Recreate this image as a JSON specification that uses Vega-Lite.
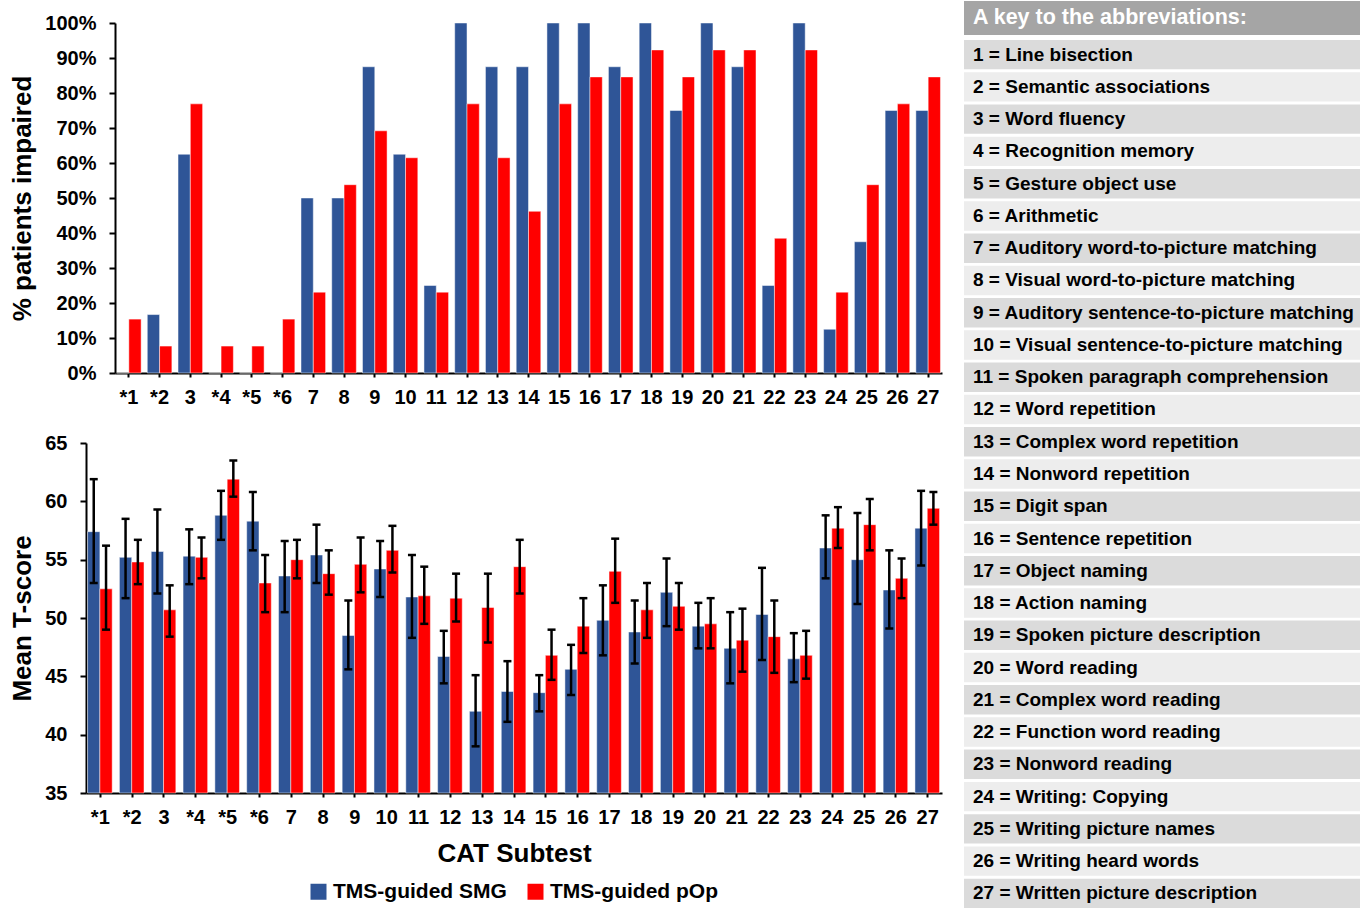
{
  "$schema": "https://vega.github.io/schema/vega-lite/v6.json",
  "background": "white",
  "padding": {"left": 9, "top": 1, "right": 0, "bottom": 0},
  "datasets": {
    "cat": [
      {"test": "*1", "group": "TMS-guided SMG", "pct": 0, "mean": 57.4, "lo": 53.0, "hi": 61.9},
      {"test": "*1", "group": "TMS-guided pOp", "pct": 0.154, "mean": 52.5, "lo": 49.0, "hi": 56.2},
      {"test": "*2", "group": "TMS-guided SMG", "pct": 0.167, "mean": 55.2, "lo": 51.7, "hi": 58.5},
      {"test": "*2", "group": "TMS-guided pOp", "pct": 0.077, "mean": 54.8, "lo": 52.9, "hi": 56.7},
      {"test": "3", "group": "TMS-guided SMG", "pct": 0.625, "mean": 55.7, "lo": 52.1, "hi": 59.3},
      {"test": "3", "group": "TMS-guided pOp", "pct": 0.769, "mean": 50.7, "lo": 48.4, "hi": 52.8},
      {"test": "*4", "group": "TMS-guided SMG", "pct": 0, "mean": 55.3, "lo": 52.9, "hi": 57.6},
      {"test": "*4", "group": "TMS-guided pOp", "pct": 0.077, "mean": 55.2, "lo": 53.4, "hi": 56.9},
      {"test": "*5", "group": "TMS-guided SMG", "pct": 0, "mean": 58.8, "lo": 56.7, "hi": 60.9},
      {"test": "*5", "group": "TMS-guided pOp", "pct": 0.077, "mean": 61.9, "lo": 60.4, "hi": 63.5},
      {"test": "*6", "group": "TMS-guided SMG", "pct": 0, "mean": 58.3, "lo": 55.8, "hi": 60.8},
      {"test": "*6", "group": "TMS-guided pOp", "pct": 0.154, "mean": 53.0, "lo": 50.5, "hi": 55.4},
      {"test": "7", "group": "TMS-guided SMG", "pct": 0.5, "mean": 53.6, "lo": 50.5, "hi": 56.6},
      {"test": "7", "group": "TMS-guided pOp", "pct": 0.231, "mean": 55.0, "lo": 53.4, "hi": 56.7},
      {"test": "8", "group": "TMS-guided SMG", "pct": 0.5, "mean": 55.4, "lo": 53.0, "hi": 58.0},
      {"test": "8", "group": "TMS-guided pOp", "pct": 0.538, "mean": 53.8, "lo": 52.0, "hi": 55.8},
      {"test": "9", "group": "TMS-guided SMG", "pct": 0.875, "mean": 48.5, "lo": 45.6, "hi": 51.5},
      {"test": "9", "group": "TMS-guided pOp", "pct": 0.692, "mean": 54.6, "lo": 52.2, "hi": 56.9},
      {"test": "10", "group": "TMS-guided SMG", "pct": 0.625, "mean": 54.2, "lo": 51.8, "hi": 56.6},
      {"test": "10", "group": "TMS-guided pOp", "pct": 0.615, "mean": 55.8, "lo": 53.9, "hi": 57.9},
      {"test": "11", "group": "TMS-guided SMG", "pct": 0.25, "mean": 51.8, "lo": 48.3, "hi": 55.4},
      {"test": "11", "group": "TMS-guided pOp", "pct": 0.231, "mean": 51.9, "lo": 49.5, "hi": 54.4},
      {"test": "12", "group": "TMS-guided SMG", "pct": 1.0, "mean": 46.7, "lo": 44.4, "hi": 48.9},
      {"test": "12", "group": "TMS-guided pOp", "pct": 0.769, "mean": 51.7, "lo": 49.7, "hi": 53.8},
      {"test": "13", "group": "TMS-guided SMG", "pct": 0.875, "mean": 42.0, "lo": 39.0, "hi": 45.1},
      {"test": "13", "group": "TMS-guided pOp", "pct": 0.615, "mean": 50.9, "lo": 47.9, "hi": 53.8},
      {"test": "14", "group": "TMS-guided SMG", "pct": 0.875, "mean": 43.7, "lo": 41.1, "hi": 46.3},
      {"test": "14", "group": "TMS-guided pOp", "pct": 0.462, "mean": 54.4, "lo": 52.1, "hi": 56.7},
      {"test": "15", "group": "TMS-guided SMG", "pct": 1.0, "mean": 43.6, "lo": 42.0, "hi": 45.1},
      {"test": "15", "group": "TMS-guided pOp", "pct": 0.769, "mean": 46.8, "lo": 44.7, "hi": 49.0},
      {"test": "16", "group": "TMS-guided SMG", "pct": 1.0, "mean": 45.6, "lo": 43.4, "hi": 47.7},
      {"test": "16", "group": "TMS-guided pOp", "pct": 0.846, "mean": 49.3, "lo": 47.0, "hi": 51.7},
      {"test": "17", "group": "TMS-guided SMG", "pct": 0.875, "mean": 49.8, "lo": 46.8, "hi": 52.8},
      {"test": "17", "group": "TMS-guided pOp", "pct": 0.846, "mean": 54.0, "lo": 51.3, "hi": 56.8},
      {"test": "18", "group": "TMS-guided SMG", "pct": 1.0, "mean": 48.8, "lo": 46.1, "hi": 51.5},
      {"test": "18", "group": "TMS-guided pOp", "pct": 0.923, "mean": 50.7, "lo": 48.3, "hi": 53.0},
      {"test": "19", "group": "TMS-guided SMG", "pct": 0.75, "mean": 52.2, "lo": 49.3, "hi": 55.1},
      {"test": "19", "group": "TMS-guided pOp", "pct": 0.846, "mean": 51.0, "lo": 49.0, "hi": 53.0},
      {"test": "20", "group": "TMS-guided SMG", "pct": 1.0, "mean": 49.3, "lo": 47.4, "hi": 51.3},
      {"test": "20", "group": "TMS-guided pOp", "pct": 0.923, "mean": 49.5, "lo": 47.4, "hi": 51.7},
      {"test": "21", "group": "TMS-guided SMG", "pct": 0.875, "mean": 47.4, "lo": 44.4, "hi": 50.5},
      {"test": "21", "group": "TMS-guided pOp", "pct": 0.923, "mean": 48.1, "lo": 45.4, "hi": 50.8},
      {"test": "22", "group": "TMS-guided SMG", "pct": 0.25, "mean": 50.3, "lo": 46.4, "hi": 54.3},
      {"test": "22", "group": "TMS-guided pOp", "pct": 0.385, "mean": 48.4, "lo": 45.3, "hi": 51.5},
      {"test": "23", "group": "TMS-guided SMG", "pct": 1.0, "mean": 46.5, "lo": 44.5, "hi": 48.7},
      {"test": "23", "group": "TMS-guided pOp", "pct": 0.923, "mean": 46.8, "lo": 44.8, "hi": 48.9},
      {"test": "24", "group": "TMS-guided SMG", "pct": 0.125, "mean": 56.0, "lo": 53.4, "hi": 58.8},
      {"test": "24", "group": "TMS-guided pOp", "pct": 0.231, "mean": 57.7, "lo": 56.0, "hi": 59.5},
      {"test": "25", "group": "TMS-guided SMG", "pct": 0.375, "mean": 55.0, "lo": 51.2, "hi": 59.0},
      {"test": "25", "group": "TMS-guided pOp", "pct": 0.538, "mean": 58.0, "lo": 55.8, "hi": 60.2},
      {"test": "26", "group": "TMS-guided SMG", "pct": 0.75, "mean": 52.4, "lo": 49.1, "hi": 55.8},
      {"test": "26", "group": "TMS-guided pOp", "pct": 0.769, "mean": 53.4, "lo": 51.7, "hi": 55.1},
      {"test": "27", "group": "TMS-guided SMG", "pct": 0.75, "mean": 57.7, "lo": 54.5, "hi": 60.9},
      {"test": "27", "group": "TMS-guided pOp", "pct": 0.846, "mean": 59.4, "lo": 58.0, "hi": 60.8}
    ],
    "keyhead": [{"label": "A key to the abbreviations:"}],
    "key": [
      {"n": 1, "label": "1 = Line bisection"},
      {"n": 2, "label": "2 = Semantic associations"},
      {"n": 3, "label": "3 = Word fluency"},
      {"n": 4, "label": "4 = Recognition memory"},
      {"n": 5, "label": "5 = Gesture object use"},
      {"n": 6, "label": "6 = Arithmetic"},
      {"n": 7, "label": "7 = Auditory word-to-picture matching"},
      {"n": 8, "label": "8 = Visual word-to-picture matching"},
      {"n": 9, "label": "9 = Auditory sentence-to-picture matching"},
      {"n": 10, "label": "10 = Visual sentence-to-picture matching"},
      {"n": 11, "label": "11 = Spoken paragraph comprehension"},
      {"n": 12, "label": "12 = Word repetition"},
      {"n": 13, "label": "13 = Complex word repetition"},
      {"n": 14, "label": "14 = Nonword repetition"},
      {"n": 15, "label": "15 = Digit span"},
      {"n": 16, "label": "16 = Sentence repetition"},
      {"n": 17, "label": "17 = Object naming"},
      {"n": 18, "label": "18 = Action naming"},
      {"n": 19, "label": "19 = Spoken picture description"},
      {"n": 20, "label": "20 = Word reading"},
      {"n": 21, "label": "21 = Complex word reading"},
      {"n": 22, "label": "22 = Function word reading"},
      {"n": 23, "label": "23 = Nonword reading"},
      {"n": 24, "label": "24 = Writing: Copying"},
      {"n": 25, "label": "25 = Writing picture names"},
      {"n": 26, "label": "26 = Writing heard words"},
      {"n": 27, "label": "27 = Written picture description"}
    ]
  },
  "config": {
    "font": "Liberation Sans",
    "view": {"stroke": null},
    "axis": {
      "domainColor": "black", "domainWidth": 2,
      "tickColor": "black", "tickWidth": 2,
      "labelColor": "black", "labelFontSize": 20, "labelFontWeight": "bold", "labelFont": "Liberation Sans",
      "titleColor": "black", "titleFontSize": 26, "titleFontWeight": "bold", "titleFont": "Liberation Sans",
      "grid": false
    }
  },
  "concat": [
    {
      "concat": [
        {
          "data": {"name": "cat"},
          "width": 856,
          "height": 350,
          "mark": {"type": "bar", "stroke": "white", "strokeWidth": 0.8, "strokeOpacity": 0.6},
          "encoding": {
            "x": {
              "field": "test", "type": "nominal",
              "sort": ["*1","*2","3","*4","*5","*6","7","8","9","10","11","12","13","14","15","16","17","18","19","20","21","22","23","24","25","26","27"],
              "scale": {"paddingInner": 0.2, "paddingOuter": 0.05, "rangeMin": 29},
              "axis": {"title": null, "labelAngle": 0, "tickSize": 4, "labelPadding": 10}
            },
            "xOffset": {"field": "group", "type": "nominal", "sort": ["TMS-guided SMG", "TMS-guided pOp"]},
            "y": {
              "field": "pct", "type": "quantitative",
              "scale": {"domain": [0, 1], "nice": false},
              "axis": {"format": ".0%", "values": [0, 0.1, 0.2, 0.3, 0.4, 0.5, 0.6, 0.7, 0.8, 0.9, 1], "title": "% patients impaired", "tickSize": 6, "labelPadding": 13, "titlePadding": 9, "offset": -29}
            },
            "color": {
              "field": "group", "type": "nominal",
              "scale": {"domain": ["TMS-guided SMG", "TMS-guided pOp"], "range": ["#2f5597", "#ff0000"]},
              "legend": null
            }
          }
        },
        {
          "data": {"name": "cat"},
          "width": 856,
          "height": 350,
          "encoding": {
            "x": {
              "field": "test", "type": "nominal",
              "sort": ["*1","*2","3","*4","*5","*6","7","8","9","10","11","12","13","14","15","16","17","18","19","20","21","22","23","24","25","26","27"],
              "scale": {"paddingInner": 0.2, "paddingOuter": 0.05},
              "axis": {"title": "CAT Subtest", "labelAngle": 0, "tickSize": 4, "labelPadding": 10, "titlePadding": 13}
            },
            "xOffset": {"field": "group", "type": "nominal", "sort": ["TMS-guided SMG", "TMS-guided pOp"]}
          },
          "layer": [
            {
              "mark": {"type": "bar", "stroke": "white", "strokeWidth": 0.8, "strokeOpacity": 0.6},
              "encoding": {
                "y": {
                  "field": "mean", "type": "quantitative", "title": "Mean T-score",
                  "scale": {"domain": [35, 65], "nice": false, "zero": false},
                  "axis": {"values": [35, 40, 45, 50, 55, 60, 65], "tickSize": 6, "labelPadding": 13, "titlePadding": 9}
                },
                "y2": {"datum": 35},
                "color": {
                  "field": "group", "type": "nominal",
                  "scale": {"domain": ["TMS-guided SMG", "TMS-guided pOp"], "range": ["#2f5597", "#ff0000"]},
                  "legend": {
                    "orient": "none", "legendX": 222, "legendY": 438, "direction": "horizontal",
                    "title": null, "symbolType": "square", "symbolSize": 256, "symbolStrokeWidth": 0,
                    "symbolOpacity": 1, "labelFontSize": 21, "labelFontWeight": "bold", "labelColor": "black",
                    "labelFont": "Liberation Sans", "labelOffset": 4, "columnPadding": 18, "labelLimit": 400
                  }
                }
              }
            },
            {
              "mark": {"type": "rule", "color": "black", "strokeWidth": 2.5},
              "encoding": {
                "y": {"field": "lo", "type": "quantitative", "title": "Mean T-score"},
                "y2": {"field": "hi"}
              }
            },
            {
              "mark": {"type": "tick", "color": "black", "thickness": 2.5, "size": 8, "opacity": 1},
              "encoding": {"y": {"field": "lo", "type": "quantitative", "title": "Mean T-score"}}
            },
            {
              "mark": {"type": "tick", "color": "black", "thickness": 2.5, "size": 8, "opacity": 1},
              "encoding": {"y": {"field": "hi", "type": "quantitative", "title": "Mean T-score"}}
            }
          ]
        }
      ],
      "columns": 1,
      "align": "none",
      "spacing": 26,
      "resolve": {"scale": {"color": "independent"}, "legend": {"color": "independent"}}
    },
    {
      "concat": [
        {
          "data": {"name": "keyhead"},
          "width": 396,
          "height": 12,
          "encoding": {
            "y": {"field": "label", "type": "nominal", "axis": null, "scale": {"paddingInner": 0, "paddingOuter": 0, "rangeMin": -22, "rangeMax": 12}}
          },
          "layer": [
            {
              "mark": {"type": "rect", "color": "#a5a5a5"},
              "encoding": {
                "x": {"datum": 0, "type": "quantitative", "scale": {"domain": [0, 1]}, "axis": null},
                "x2": {"datum": 1}
              }
            },
            {
              "mark": {"type": "text", "align": "left", "baseline": "middle", "dx": 9, "color": "white", "fontSize": 21.5, "fontWeight": "bold", "font": "Liberation Sans"},
              "encoding": {
                "x": {"datum": 0, "type": "quantitative"},
                "text": {"field": "label"}
              }
            }
          ]
        },
        {
          "data": {"name": "key"},
          "width": 396,
          "height": 868,
          "encoding": {
            "y": {"field": "n", "type": "ordinal", "axis": null, "scale": {"paddingInner": 0.09, "paddingOuter": 0}}
          },
          "layer": [
            {
              "mark": {"type": "rect"},
              "encoding": {
                "x": {"datum": 0, "type": "quantitative", "scale": {"domain": [0, 1]}, "axis": null},
                "x2": {"datum": 1},
                "color": {"condition": {"test": "datum.n % 2 === 1", "value": "#dbdbdb"}, "value": "#ededed"}
              }
            },
            {
              "mark": {"type": "text", "align": "left", "baseline": "middle", "dx": 9, "color": "black", "fontSize": 19, "fontWeight": "bold", "font": "Liberation Sans"},
              "encoding": {
                "x": {"datum": 0, "type": "quantitative"},
                "text": {"field": "label"}
              }
            }
          ]
        }
      ],
      "columns": 1,
      "align": "none",
      "spacing": 5
    }
  ],
  "columns": 2,
  "align": "none",
  "spacing": 22
}
